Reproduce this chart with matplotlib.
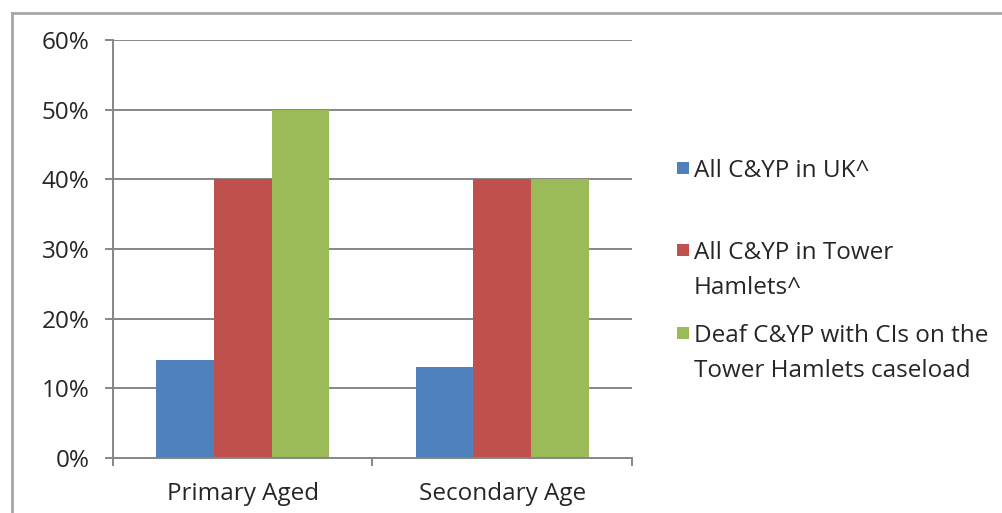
import matplotlib
matplotlib.use("Agg")
import matplotlib.pyplot as plt
import numpy as np
from matplotlib.lines import Line2D
from matplotlib.patches import Rectangle
from matplotlib.ticker import PercentFormatter, FixedLocator

categories = ["Primary Aged", "Secondary Age"]
series_names = ["All C&YP in UK^", "All C&YP in Tower\nHamlets^",
                "Deaf C&YP with CIs on the\nTower Hamlets caseload"]
uk = [14, 13]
tower_hamlets = [40, 40]
deaf_ci = [50, 40]
series_values = [uk, tower_hamlets, deaf_ci]
colors = ["#4F81BD", "#C0504D", "#9BBB59"]
yticks = [0, 10, 20, 30, 40, 50, 60]

W, H = 1003, 513
fig = plt.figure(figsize=(W / 100, H / 100), dpi=100)
plt.rcParams['font.family'] = ['Open Sans', 'DejaVu Sans']
txt_color = "#262626"
grid_color = "#868686"
fs = 17.5

ax = fig.add_axes([113 / W, 1 - 458 / H, (632 - 113) / W, (458 - 40) / H])

x = np.arange(len(categories))
bw = 0.2222
for i, (vals, c) in enumerate(zip(series_values, colors)):
    ax.bar(x + (i - 1) * bw, vals, width=bw, color=c, edgecolor='none', zorder=3)

ax.set_xlim(-0.5, len(categories) - 0.5)
ax.set_ylim(0, 60)
ax.yaxis.set_major_locator(FixedLocator(yticks))
ax.yaxis.set_major_formatter(PercentFormatter(decimals=0))
ax.grid(axis='y', color=grid_color, linewidth=1.4, zorder=0)

for s in ['top', 'right']:
    ax.spines[s].set_visible(False)
for s in ['left', 'bottom']:
    ax.spines[s].set_color(grid_color)
    ax.spines[s].set_linewidth(1.4)
    ax.spines[s].set_zorder(4)

ax.set_xticks(np.arange(len(categories) + 1) - 0.5)
ax.set_xticklabels([])
ax.set_xticks(x, minor=True)
ax.set_xticklabels(categories, minor=True)
ax.tick_params(axis='x', which='major', direction='out', length=6, width=1.4, color=grid_color)
ax.tick_params(axis='x', which='minor', length=0, pad=17.5, labelsize=fs, labelcolor=txt_color)
ax.tick_params(axis='y', direction='out', length=6, width=1.4, color=grid_color,
               pad=11, labelsize=fs, labelcolor=txt_color)

# legend (manual, Excel-like)
leg_y = [168, 250, 333]
line_gap = 35
for name, c, yy in zip(series_names, colors, leg_y):
    fig.add_artist(Rectangle((677 / W, 1 - (yy + 6) / H), 12 / W, 12 / H,
                             transform=fig.transFigure, facecolor=c, edgecolor='none'))
    for k, line in enumerate(name.split("\n")):
        fig.text(694 / W, 1 - (yy + k * line_gap) / H, line, fontsize=fs, color=txt_color,
                 va='center_baseline', ha='left', transform=fig.transFigure)

# partial outer border
fig.add_artist(Line2D([12 / W, 1.0], [1 - 13 / H, 1 - 13 / H], color="#A6A6A6", linewidth=2,
                      transform=fig.transFigure))
fig.add_artist(Line2D([12 / W, 12 / W], [0, 1 - 13 / H], color="#A6A6A6", linewidth=2,
                      transform=fig.transFigure))

fig.savefig("out.png", dpi=100)
